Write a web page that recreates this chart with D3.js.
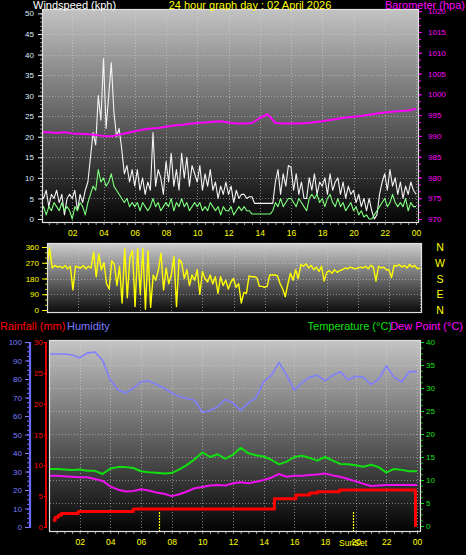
<!DOCTYPE html>
<html><head><meta charset="utf-8">
<script src="https://cdn.jsdelivr.net/npm/d3@7"></script>
<style>
html,body{margin:0;padding:0;background:#000;}
svg{display:block;font-family:"Liberation Sans",Arial,sans-serif;}
</style></head><body>
<svg id="c" width="466" height="555"></svg>
<script>
// ---------- DATA ----------
const hourTicks = [2,4,6,8,10,12,14,16,18,20,22,24];
const hourLabels = ["02","04","06","08","10","12","14","16","18","20","22","00"];
const windTicks = [0,5,10,15,20,25,30,35,40,45,50];
const baroTicks = [970,975,980,985,990,995,1000,1005,1010,1015,1020];
const dirTicks = [0,90,180,270,360];
const compass = ["N","E","S","W","N"];
const humTicks = [0,10,20,30,40,50,60,70,80,90,100];
const rainTicks = [0,5,10,15,20,25,30];
const tempTicks = [0,5,10,15,20,25,30,35,40];

// 10-minute samples, 00:00 .. 24:00
const windGust = [
 6,5,7,3,6,5, 7,4,6,1,5,6, 5,7,2,6,4,7, 9,15,21,18,30,24,
 39,22,30,38,26,20, 22,17,11,13,9,12, 8,12,7,10,6,9, 7,21,8,12,10,6,
 14,9,16,8,12,7, 16,10,15,8,13,11, 9,13,7,11,8,12, 7,9,5,8,6,9,
 6,8,4,7,5,6, 6,5,5.4,5.4,3.8,3.8, 3.8,3.8,3.8,3.8,3.8,3.8, 9,12,6,11,8,13,
 12.6,7,11,6,9,5, 5,10,7,11,6,9, 8,10,6,11,7,9, 10,6,9,5,8,6,
 7,4,6,3,5,2, 5,2,0,1,6,9, 11,7,12,8,10,6, 9,5,8,6,9,7, 6];
const windAvg = [
 2,3,1,3,2,4, 3,2,4,2,3,2, 0,3,2,4,3,1, 4,6,8,7,12,9,
 10,8,9,11,8,7, 6,5,4,5,3,4, 3,4,2,4,3,2, 3,5,3,4,2,3,
 4,3,5,2,4,3, 5,3,4,2,3,4, 3,4,2,3,2,4, 3,2,3,1,3,2,
 2,3,1,2,3,2, 3,2,2,1.2,1.2,1.2, 1.2,1.2,1.2,1.2,1.2,2, 4,3,5,3,4,5,
 5,4,3,5,4,3, 2,5,6,5,6,4, 5,3,5,6,4,3, 5,3,4,2,3,4,
 2,3,1,2,0.5,1, 0,0,1,2,3,4, 5,3,4,6,4,3, 4,3,5,2,4,3, 3];
const windDir = [
 250,355,240,255,245,250, 240,255,235,250,115,250, 245,240,255,235,250,240,
 330,190,320,230,270,150, 120,280,260,140,250,40, 350,70,300,340,20,350,
 90,350,5,340,15,200, 170,230,325,115,240,150, 200,305,20,290,270,180,
 230,140,200,170,230,90, 220,180,160,200,150,190, 95,190,140,170,120,160,
 180,130,150,40,100,95, 195,190,190,185,135,135, 130,135,200,200,200,195,
 150,120,76,150,210,170, 230,180,260,250,265,240, 255,230,245,220,250,165,
 215,225,210,230,215,225, 230,240,235,245,240,235, 240,245,240,250,235,255,
 245,165,250,240,245,230, 230,185,255,250,260,245, 255,240,260,245,255,235, 240];

// 30-minute samples, 00:00 .. 24:00
const barometer = [
 990.9,990.9,990.7,990.9,990.6,990.5,990.4,990.2,990.0,989.9,990.3,990.7,
 991.1,991.5,991.8,991.9,992.2,992.5,992.6,992.9,993.1,993.2,993.4,993.5,
 993.2,993.0,993.0,993.1,994.3,995.2,993.1,993.0,993.0,993.0,993.1,993.3,
 993.5,993.8,994.1,994.4,994.6,994.8,995.1,995.4,995.6,995.8,996.0,996.1,996.5];
const humidity = [
 93.5,93.5,93.5,93,91.5,94,94.6,90,79.5,74,72.5,75,
 78.5,79,77,75,72.5,70.5,69.5,68.5,62,63,65,69,
 67,63,67,70,78.4,82,89,82,74,78,81,82,
 79,82,84,79.5,81.5,81,77,80,87,81,78.4,84,84];
const temperature = [
 12.4,12.4,12.3,12.2,12.3,12,12,11.3,12.5,12.8,12.8,12.6,
 11.9,11.7,11.6,11.4,11.5,12.3,13.3,14.5,16,15,15.6,14.6,
 15.5,17,15.8,15.4,15.1,14.4,13.4,14,15,15.3,14.8,14.2,
 15,14.2,13.5,13.4,13.2,12.9,13.3,12.8,11.6,12.4,12.2,11.9,11.9];
const dewPoint = [
 10.9,10.9,10.8,10.7,10.6,10.6,10.2,9.8,8.6,7.9,7.5,7.6,
 8.0,7.7,7.3,7.0,6.5,6.9,7.5,8.2,8.5,8.8,8.9,8.8,
 9.3,9.5,9.3,9.6,10,10.5,11.3,10.7,10.9,10.9,11.1,11.2,
 11.4,11.0,10.7,10.2,9.7,9.2,8.7,8.8,8.9,8.9,8.9,8.9,8.9];
const rainHours = [0.25,0.4,0.6,0.8,1.9,5.5,14.7,16.1,17.0,17.5,18.95,23.9];
const rainValues = [1.1,1.6,1.9,2.2,2.5,2.9,4.6,5.2,5.5,5.7,6.0,0];
const sunEvents = [7.18, 19.83];

// ---------- DRAW ----------
const svg = d3.select("#c");
const defs = svg.append("defs");
function grad(id, c0, c1){
  const g = defs.append("linearGradient").attr("id", id).attr("x1",0).attr("y1",0).attr("x2",0).attr("y2",1);
  g.append("stop").attr("offset","0%").attr("stop-color",c0);
  g.append("stop").attr("offset","100%").attr("stop-color",c1);
}
grad("gTop","#c2c2c2","#050505");
grad("gMid","#cccccc","#0c0c0c");
grad("gBot","#c4c4c4","#030303");
function clip(id,x,y,w,h){
  defs.append("clipPath").attr("id",id).append("rect").attr("x",x).attr("y",y).attr("width",w).attr("height",h);
}
const tenMin = d3.range(windGust.length).map(i => i/6);
const halfHour = d3.range(barometer.length).map(i => i/2);

// panel geometry
const T = {x0:43, x1:418, y0:10, y1:222};
const M = {x0:48, x1:421, y0:244, y1:312};
const B = {x0:50, x1:420, y0:341, y1:531};
clip("cT",T.x0,T.y0,T.x1-T.x0,T.y1-T.y0);
clip("cM",M.x0,M.y0,M.x1-M.x0,M.y1-M.y0);
clip("cB",B.x0,B.y0,B.x1-B.x0,B.y1-B.y0);

const xT = d3.scaleLinear().domain([0,24]).range([41,416]);
const xM = d3.scaleLinear().domain([0,24]).range([47,420]);
const xB = d3.scaleLinear().domain([0,24]).range([49,417]);
const yWind = d3.scaleLinear().domain([0,50]).range([219,13.4]);
const yBaro = d3.scaleLinear().domain([970,1020]).range([219,11.2]);
const yDir = d3.scaleLinear().domain([0,360]).range([310,247]);
const yHum = d3.scaleLinear().domain([0,100]).range([527,342]);
const yRain = d3.scaleLinear().domain([0,30]).range([527,342]);
const yTemp = d3.scaleLinear().domain([0,40]).range([526,342]);

function panelBg(P, gid){
  svg.append("rect").attr("x",P.x0).attr("y",P.y0).attr("width",P.x1-P.x0).attr("height",P.y1-P.y0).attr("fill",`url(#${gid})`);
}
function gridV(P, xs, hours){
  svg.append("g").selectAll("line").data(hours).join("line")
    .attr("x1",d=>Math.round(xs(d))+0.5).attr("x2",d=>Math.round(xs(d))+0.5)
    .attr("y1",P.y0).attr("y2",P.y1)
    .attr("stroke","#d8d8d8").attr("stroke-opacity",0.55).attr("stroke-dasharray","1,2");
}
function gridH(P, ys, vals){
  svg.append("g").selectAll("line").data(vals).join("line")
    .attr("x1",P.x0).attr("x2",P.x1)
    .attr("y1",d=>Math.round(ys(d))+0.5).attr("y2",d=>Math.round(ys(d))+0.5)
    .attr("stroke","#d8d8d8").attr("stroke-opacity",0.5).attr("stroke-dasharray","1,2");
}
function frame(P){
  svg.append("rect").attr("x",P.x0-0.5).attr("y",P.y0-0.5).attr("width",P.x1-P.x0+1).attr("height",P.y1-P.y0+1)
    .attr("fill","none").attr("stroke","#e0e0e0").attr("stroke-width",1.2);
}
function path(xs, ys, xsData, vals, color, w, clipId, curve){
  svg.append("path").datum(vals.map((v,i)=>[xsData[i],v]))
    .attr("clip-path",`url(#${clipId})`)
    .attr("fill","none").attr("stroke",color).attr("stroke-width",w).attr("stroke-linejoin","round")
    .attr("d", d3.line().x(d=>xs(d[0])).y(d=>ys(d[1])).curve(curve||d3.curveLinear));
}
function styleAxis(g, color, size){
  g.select(".domain").remove();
  g.selectAll("line").attr("stroke",color);
  g.selectAll("text").attr("fill",color).attr("font-size",size||8).attr("font-family","Liberation Sans, Arial, sans-serif");
}

// ---- TOP PANEL ----
panelBg(T,"gTop");
gridV(T, xT, hourTicks);
gridH(T, yWind, windTicks.slice(1,-1));
path(xT, yWind, tenMin, windGust, "#f4f4f4", 1.1, "cT");
path(xT, yWind, tenMin, windAvg, "#7dff7d", 1.1, "cT");
path(xT, yBaro, halfHour, barometer, "#ff00ff", 2, "cT");
frame(T);

styleAxis(svg.append("g").attr("transform","translate(42,0)")
  .call(d3.axisLeft(yWind).tickValues(d3.range(0,50.1,1)).tickSize(2).tickFormat("")), "#9a9a9a");
styleAxis(svg.append("g").attr("transform","translate(42,0)")
  .call(d3.axisLeft(yWind).tickValues(windTicks).tickSize(4).tickPadding(4)), "#dcecff");
styleAxis(svg.append("g").attr("transform","translate(419,0)")
  .call(d3.axisRight(yBaro).tickValues(d3.range(970,1020.01,5/3)).tickSize(2).tickFormat("")), "#ff00ff");
styleAxis(svg.append("g").attr("transform","translate(419,0)")
  .call(d3.axisRight(yBaro).tickValues(baroTicks).tickSize(3).tickPadding(6).tickFormat(d3.format("d"))), "#ff00ff");
const xTopAx = svg.append("g").attr("transform","translate(0,223)")
  .call(d3.axisBottom(xT).tickValues(d3.range(0.5,24.01,0.5)).tickSize(2).tickFormat(""));
styleAxis(xTopAx,"#9a9a9a");
const xTopLab = svg.append("g").attr("transform","translate(0,229)")
  .call(d3.axisBottom(xT).tickValues(hourTicks).tickSize(0).tickPadding(1).tickFormat((d,i)=>hourLabels[i]));
styleAxis(xTopLab,"#ffff00",8.5);

// ---- MIDDLE PANEL ----
panelBg(M,"gMid");
gridV(M, xM, hourTicks);
gridH(M, yDir, [90,180,270]);
path(xM, yDir, tenMin, windDir, "#ffff00", 1.4, "cM");
frame(M);
styleAxis(svg.append("g").attr("transform","translate(47,0)")
  .call(d3.axisLeft(yDir).tickValues(d3.range(0,360.1,30)).tickSize(2).tickFormat("")), "#c8c800");
styleAxis(svg.append("g").attr("transform","translate(47,0)")
  .call(d3.axisLeft(yDir).tickValues(dirTicks).tickSize(5).tickPadding(3)), "#ffff00");
svg.append("g").selectAll("text").data(dirTicks).join("text")
  .attr("x",440).attr("y",d=>yDir(d)+4).attr("text-anchor","middle")
  .attr("fill","#ffff00").attr("font-size",10.5).text((d,i)=>compass[i]);

// ---- BOTTOM PANEL ----
panelBg(B,"gBot");
gridV(B, xB, hourTicks);
gridH(B, yTemp, tempTicks.slice(1,-1));
path(xB, yHum, halfHour, humidity, "#7f7fff", 1.6, "cB");
path(xB, yTemp, halfHour, temperature, "#10e010", 2, "cB");
path(xB, yTemp, halfHour, dewPoint, "#ee10ee", 2, "cB");
path(xB, yRain, rainHours, rainValues, "#ff0000", 3, "cB", d3.curveStepAfter);
svg.append("g").selectAll("line").data(sunEvents).join("line")
  .attr("x1",d=>Math.round(xB(d))+0.5).attr("x2",d=>Math.round(xB(d))+0.5)
  .attr("y1",512).attr("y2",B.y1).attr("stroke","#ffff00").attr("stroke-width",1.2).attr("stroke-dasharray","2,1");
frame(B);

// humidity axis
svg.append("line").attr("x1",30).attr("x2",30).attr("y1",342).attr("y2",528).attr("stroke","#6b6bff").attr("stroke-width",2.2);
styleAxis(svg.append("g").attr("transform","translate(29,0)")
  .call(d3.axisLeft(yHum).tickValues(d3.range(0,100.1,2.5)).tickSize(2).tickFormat("")), "#6b6bff");
styleAxis(svg.append("g").attr("transform","translate(29,0)")
  .call(d3.axisLeft(yHum).tickValues(humTicks).tickSize(4).tickPadding(3)), "#7b7bff");
// rain axis
svg.append("line").attr("x1",46).attr("x2",46).attr("y1",342).attr("y2",528).attr("stroke","#e00000").attr("stroke-width",2);
styleAxis(svg.append("g").attr("transform","translate(47,0)")
  .call(d3.axisLeft(yRain).tickValues(d3.range(0,30.1,1)).tickSize(2).tickFormat("")), "#cc0000");
styleAxis(svg.append("g").attr("transform","translate(47,0)")
  .call(d3.axisLeft(yRain).tickValues(rainTicks).tickSize(3).tickPadding(1)), "#ff0000");
// temperature axis
styleAxis(svg.append("g").attr("transform","translate(421,0)")
  .call(d3.axisRight(yTemp).tickValues(d3.range(0,40.1,1.25)).tickSize(2).tickFormat("")), "#10b010");
styleAxis(svg.append("g").attr("transform","translate(421,0)")
  .call(d3.axisRight(yTemp).tickValues(tempTicks).tickSize(3).tickPadding(2)), "#10e010");
// x axis bottom
styleAxis(svg.append("g").attr("transform","translate(0,532)")
  .call(d3.axisBottom(xB).tickValues(d3.range(0.5,24.01,0.5)).tickSize(2).tickFormat("")), "#9a9a9a");
styleAxis(svg.append("g").attr("transform","translate(0,538)")
  .call(d3.axisBottom(xB).tickValues(hourTicks).tickSize(0).tickPadding(1).tickFormat((d,i)=>hourLabels[i])), "#ffff00", 8.5);
svg.append("text").attr("x",xB(sunEvents[1])).attr("y",546).attr("text-anchor","middle")
  .attr("fill","#ffff00").attr("font-size",8.5).text("SunSet");

// ---- TITLES ----
function title(x,y,txt,color,anchor){
  svg.append("text").attr("x",x).attr("y",y).attr("fill",color).attr("font-size",11)
    .attr("text-anchor",anchor||"start").text(txt);
}
title(33,9,"Windspeed (kph)","#ffffff");
title(250,9,"24 hour graph day : 02 April 2026","#ffff00","middle");
title(465,9,"Barometer (hpa)","#ff00ff","end");
title(0,330,"Rainfall (mm)","#ff0000");
title(67,330,"Humidity","#7b7bff");
title(392,330,"Temperature (°C)","#10e010","end");
title(463,330,"Dew Point (°C)","#ff00ff","end");
</script>
</body></html>
